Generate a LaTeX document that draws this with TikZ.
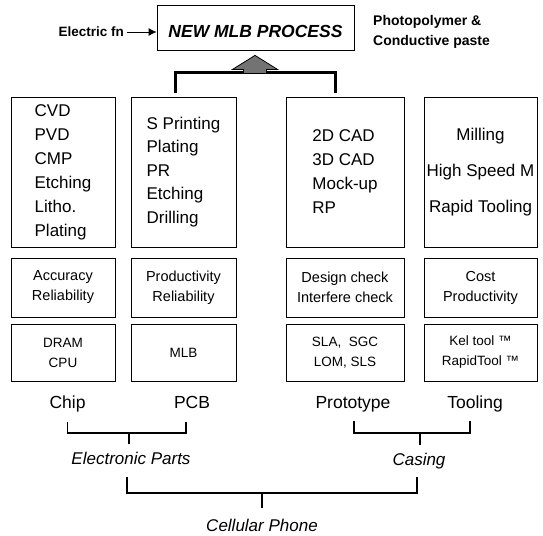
\documentclass[tikz,border=0pt]{standalone}
\usepackage{fontspec}
\setmainfont{Liberation Sans}
\usetikzlibrary{calc,arrows.meta}
\begin{document}
\begin{tikzpicture}[x=1pt,y=-1pt,
  box/.style={draw, line width=0.8pt, inner sep=0pt},
  big/.style={font=\fontsize{17}{24}\selectfont},
  mid/.style={font=\fontsize{14.5}{20}\selectfont, align=center},
  sml/.style={font=\fontsize{13.5}{20}\selectfont, align=center},
  lab/.style={font=\fontsize{17.5}{21}\selectfont, inner sep=0pt, anchor=base},
  ital/.style={font=\fontsize{17}{21}\selectfont\itshape, inner sep=0pt, anchor=base},
  side/.style={font=\fontsize{13.5}{20}\selectfont\bfseries, inner sep=0pt},
  brk/.style={line width=1.1pt}]
\useasboundingbox (0,0) rectangle (543,535);

% top process box
\node[box, minimum width=197pt, minimum height=45pt,
      font=\fontsize{17.5}{20}\selectfont\bfseries\itshape, text height=21pt]
      (top) at (255.5,27.5) {NEW MLB PROCESS};
\node[side, anchor=east] (efn) at (124,32) {Electric fn};
\draw[-{Latex[length=8pt,width=8pt]}, line width=0.9pt]
      ([xshift=3pt]efn.east) -- (efn.east -| top.west);
\node[side, font=\fontsize{14}{20}\selectfont\bfseries, anchor=west, align=left]
      (photo) at (373,32) {Photopolymer \&\\Conductive paste};

% row 1
\node[box, big, minimum width=104pt, minimum height=150pt, align=left]
      (b1) at (63,172) {CVD\\PVD\\CMP\\Etching\\Litho.\\Plating};
\node[box, big, font=\fontsize{17}{23.5}\selectfont, minimum width=105pt, minimum height=150pt, align=left]
      (b2) at (183.5,172) {S Printing\\Plating\\PR\\Etching\\Drilling};
\node[box, big, minimum width=118pt, minimum height=150pt, align=left]
      (b3) at (345,172) {2D CAD\\3D CAD\\Mock-up\\RP};
\node[box, big, font=\fontsize{17}{36}\selectfont, minimum width=113pt, minimum height=150pt, align=center]
      (b4) at (480.5,172) {Milling\\High Speed M\\Rapid Tooling};

% row 2
\node[box, mid, minimum width=104pt, minimum height=59pt] (c1) at (63,287.5) {Accuracy\\Reliability};
\node[box, mid, minimum width=105pt, minimum height=59pt] (c2) at (183.5,287.5) {Productivity\\Reliability};
\node[box, mid, minimum width=118pt, minimum height=59pt] (c3) at (345,287.5) {Design check\\Interfere check};
\node[box, mid, minimum width=113pt, minimum height=59pt] (c4) at (480.5,287.5) {Cost\\Productivity};

% row 3
\node[box, sml, minimum width=104pt, minimum height=57pt] (d1) at (63,352.5) {DRAM\\CPU};
\node[box, sml, minimum width=105pt, minimum height=57pt] (d2) at (183.5,352.5) {MLB};
\node[box, sml, minimum width=118pt, minimum height=57pt] (d3) at (345,352.5) {SLA,\ \ SGC\\LOM, SLS};
\node[box, sml, minimum width=113pt, minimum height=57pt] (d4) at (480.5,352.5) {Kel tool ™\\RapidTool ™};

% thick bracket and hollow arrow
\draw[line width=3pt] ($(b2.north)+(-8.5,-4)$) -- ++(0,-20) -| ($(b3.north)+(-10,-4)$);
\draw[fill=black!55, line width=0.8pt, line join=miter]
      ($(top.south)+(-0.5,5)$) -- ++(22.5,14) -- ++(-11,0) -- ++(0,4) -- ++(-23,0)
      -- ++(0,-4) -- ++(-11,0) -- cycle;

% labels
\node[lab] (chip) at (67.5,408) {Chip};
\node[lab] (pcb) at (192,408) {PCB};
\node[lab] (proto) at (353,408) {Prototype};
\node[lab] (tool) at (475,408) {Tooling};
\node[ital] (elec) at (131,464) {Electronic Parts};
\node[ital] (casing) at (419,465) {Casing};
\node[ital] (cell) at (262,531) {Cellular Phone};

% brackets
\draw[brk] ($(chip.base)+(0,14)$) |- ($(pcb.base)+(-6,25)$) -- ($(pcb.base)+(-6,14)$);
\draw[brk] ($(elec.north)+(-2,-7)$) -- ++(0,-12);
\draw[brk] ($(proto.base)+(1,13)$) |- ($(tool.base)+(-5,25)$) -- ($(tool.base)+(-5,13)$);
\draw[brk] ($(casing.north)+(1,-7)$) -- ++(0,-12);
\draw[brk] ($(elec.base)+(-4,13)$) |- ($(casing.base)+(-2,28)$) -- ($(casing.base)+(-2,12)$);
\draw[brk] ($(cell.north)+(0,-10.5)$) -- ++(0,-15);
\end{tikzpicture}
\end{document}
